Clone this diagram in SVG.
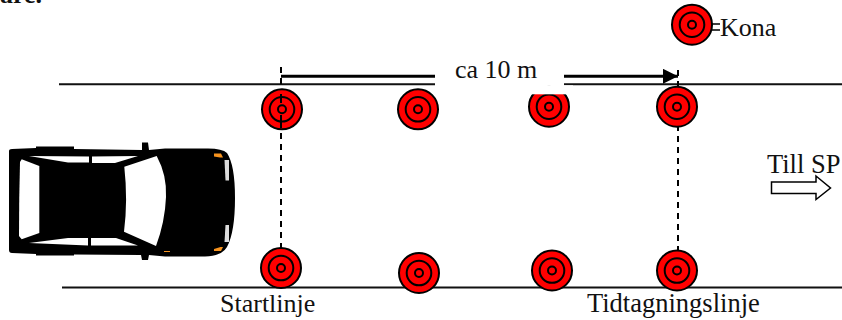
<svg xmlns="http://www.w3.org/2000/svg" width="842" height="320" viewBox="0 0 842 320">
<style>
text{font-family:"Liberation Serif","Times New Roman",serif;font-size:26px;fill:#111}
.ln{stroke:#111;fill:none;stroke-width:2}
.dash{stroke:#000;stroke-width:2;fill:none;stroke-dasharray:6 5}
.o{fill:#f00;stroke:#000;stroke-width:2}
.i{fill:none;stroke:#000;stroke-width:2}
</style>
<defs>
<g id="cone">
<circle class="o" r="20"/>
<circle class="i" r="12.3"/>
<circle class="i" r="4"/>
</g>
<marker id="ah" markerUnits="userSpaceOnUse" markerWidth="16" markerHeight="16" refX="15" refY="7.5" orient="auto"><path d="M0 0L15 7.5L0 15Z" fill="#000"/></marker>
</defs>
<text x="0" y="2.500" style="font-weight:bold">are.</text>
<g id="connectors">
<path class="ln" d="M59 84.3H435M564 84.3H842M62 287.5H842"/>
<path d="M281 76.300H435" stroke="#000" stroke-width="3" fill="none"/>
<path d="M564 76.300H678" stroke="#000" stroke-width="3" fill="none" marker-end="url(#ah)"/>
<path class="dash" d="M281 67V255M678 70V250"/>
</g>
<g id="cone-1"><use href="#cone" x="282" y="109.300"/><path d="M281 94V103M281 115V128" stroke="#000" stroke-width="2"/></g>
<g id="cone-2"><use href="#cone" x="418" y="109.300"/></g>
<g id="cone-3"><use href="#cone" x="549" y="106.700"/><rect x="525" y="85.300" width="48" height="9" fill="#fff"/></g>
<g id="cone-4"><use href="#cone" x="677" y="106.700"/></g>
<g id="cone-5"><use href="#cone" x="281" y="268"/></g>
<g id="cone-6"><use href="#cone" x="419" y="273"/></g>
<g id="cone-7"><use href="#cone" x="552" y="270.500"/></g>
<g id="cone-8"><use href="#cone" x="677" y="270.500"/></g>
<g id="kona"><use href="#cone" x="692" y="24.700"/>
<path d="M712 24H720M712 30H720" stroke="#000" stroke-width="1.500"/>
<text x="720" y="36">Kona</text></g>
<g id="label-distance"><text x="455" y="78">ca 10 m</text></g>
<g id="label-start"><text x="220" y="312">Startlinje</text></g>
<g id="label-time"><text x="587" y="312" style="font-size:26.500px">Tidtagningslinje</text></g>
<g id="till-sp">
<text x="767" y="173" style="font-size:26.500px">Till SP</text>
<path d="M771.500 182H816V176L830.500 188L816 199.500V193.500H771.500Z" fill="#fff" stroke="#000" stroke-width="1.500"/>
</g>
<g id="car">
<path d="M9 151Q9 149 12 149L36 148V146.500H74V149L142 150V142.500H148L149 150L165 148.500H205Q222 148 227 153Q235 165 235 198Q235 232 227 247Q222 256 205 256.500H165L149 255L148 260H142L141 255L74 254.500V255.500H36V254L12 253Q9 253 9 250Z" fill="#000"/>
<path d="M21.700 159.300L39.300 166V233L21.700 239.300L19 236Q19 198 20 162Z" fill="#fff"/>
<path d="M29 156L68 162.500H89V156.500Z" fill="#fff"/>
<path d="M92 156.500V163H115L138 156Z" fill="#fff"/>
<path d="M29 243L68 238H88V245.500Z" fill="#fff"/>
<path d="M91 238V245.500H138L116 238Z" fill="#fff"/>
<path d="M124.300 166.700L156.700 156Q167 175 166 197Q165 222 156 246L124 231.700Q128 200 124.300 166.700Z" fill="#fff"/>
<path d="M224.500 160H229V180.500H225.500Z" fill="#ddd"/>
<path d="M225.500 225H229V242H224.500Z" fill="#ddd"/>
<path d="M214 153.500L221 153.500L223 157.500L221.500 157.500L220 157.500L214 156.500Z" fill="#f7931e"/>
<path d="M214 251L221 251L223 247L220.500 247L214 249Z" fill="#f7931e"/>
<path d="M164 251H170V252H164Z" fill="#f7931e"/>
</g>
</svg>
